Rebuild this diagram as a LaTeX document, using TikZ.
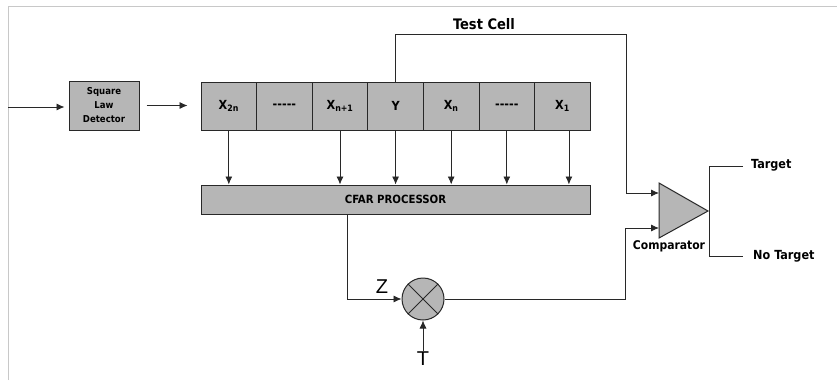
\documentclass[tikz,border=0pt]{standalone}
\usepackage{fontspec}
\setmainfont{DejaVu Sans Condensed}
\newfontfamily\zfont{Liberation Sans}
\usetikzlibrary{arrows.meta}
\definecolor{linec}{RGB}{40,40,40}
\definecolor{boxfill}{RGB}{182,182,182}
\definecolor{framec}{RGB}{200,200,200}
\begin{document}
\begin{tikzpicture}[x=1pt,y=-1pt,
  box/.style={draw=linec, fill=boxfill, line width=1pt, inner sep=0pt},
  cell/.style={box, minimum width=55.6pt, minimum height=48pt, font=\bfseries\fontsize{12.5}{14}\selectfont},
  wire/.style={draw=linec, line width=0.8pt},
  arr/.style={wire, -{Latex[length=8pt,width=7pt]}},
  lab/.style={font=\bfseries\fontsize{12.5}{15}\selectfont, inner sep=0pt},
  big/.style={font=\zfont\fontsize{20}{22}\selectfont, inner sep=1pt}]
\useasboundingbox (0,0) rectangle (837,380);
\draw[framec, line width=1pt] (8,380) -- (8,6) -- (837,6);

% square law detector
\node[box, minimum width=70pt, minimum height=49pt, align=center,
  font=\bfseries\fontsize{9.5}{14}\selectfont] (sld) at (104,105.5) {Square\\Law\\Detector};
\coordinate (inL) at (8,107);
\draw[arr, shorten >=4pt] (inL) -- (inL -| sld.west);

% cells
\node[cell] (c1) at (228.8,106) {X\textsubscript{2n}};
\node[cell] (c2) at (284.4,106) {{-}{-}{-}{-}{-}};
\node[cell] (c3) at (340.0,106) {X\textsubscript{n+1}};
\node[cell] (c4) at (395.6,106) {Y};
\node[cell] (c5) at (451.2,106) {X\textsubscript{n}};
\node[cell] (c6) at (506.8,106) {{-}{-}{-}{-}{-}};
\node[cell] (c7) at (562.4,106) {X\textsubscript{1}};
\draw[arr, shorten <=7pt, shorten >=13pt] (sld.east) -- (sld.east -| c1.west);

% CFAR
\node[box, minimum width=389pt, minimum height=29pt, font=\bfseries\fontsize{11.3}{13}\selectfont] (cfar) at (395.5,199.5) {CFAR PROCESSOR};
\foreach \c in {c1,c3,c4,c5,c6}{
  \draw[arr] (\c.south) -- (\c.south |- cfar.north);
}
\draw[arr] ([xshift=6.5pt]c7.south) -- ([xshift=6.5pt]c7.south |- cfar.north);

% test cell
\coordinate (tcR) at (626,34);
\node[lab, font=\bfseries\fontsize{14.5}{16}\selectfont] (tc) at (484,24) {Test Cell};

% comparator
\coordinate (cmpT) at (659,183);
\coordinate (cmpB) at (659,238);
\coordinate (cmpA) at (708,211);
\draw[box] (cmpT) -- (cmpA) -- (cmpB) -- cycle;
\coordinate (cin1) at (659,193);
\coordinate (cin2) at (659,228);
\node[lab, font=\bfseries\fontsize{12}{14}\selectfont] (cmplab) at (669,246.5) {Comparator};
\draw[arr] (c4.north) |- (tcR) |- (cin1);

% multiplier
\node[circle, draw=linec, fill=boxfill, line width=1pt, minimum size=42pt, inner sep=0pt] (mul) at (423,299) {};
\draw[wire, line width=1pt] (mul.north west) -- (mul.south east);
\draw[wire, line width=1pt] (mul.north east) -- (mul.south west);
\coordinate (cfo) at ([xshift=-48.5pt]cfar.south);
\draw[arr] (cfo) |- (mul.west);
\node[big] (Z) at (382,287) {Z};
\node[big] (T) at (423,359) {T};
\draw[arr] (T.north) -- (mul.south);
\coordinate (mr) at (625,299);
\draw[arr] (mul.east) -- (mr) |- (cin2);

% outputs
\node[lab, anchor=west] (tgt) at (751,165) {Target};
\node[lab, anchor=west] (ntgt) at (753,256) {No Target};
\coordinate (o1) at (709,166);
\coordinate (o2) at (709,256);
\draw[wire, shorten <=8pt, shorten >=10pt] (tgt.west |- o1) -- (o1) -- (o2) -- (ntgt.west |- o2);
\end{tikzpicture}
\end{document}
